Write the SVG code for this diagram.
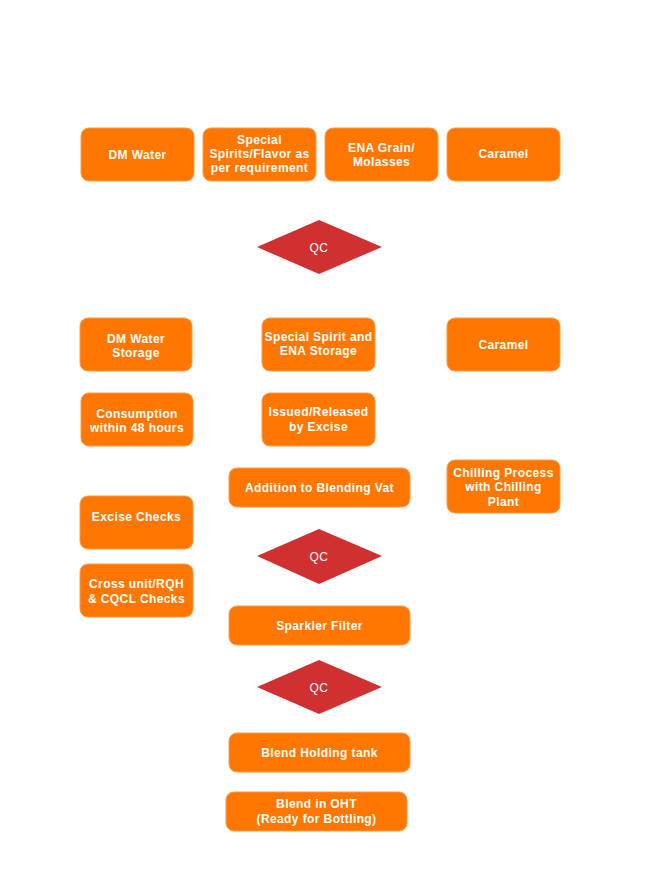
<svg xmlns="http://www.w3.org/2000/svg" width="648" height="884" viewBox="0 0 648 884">
<style>
.b{fill:#FF7700;stroke:#FF9A45;stroke-width:1}
.d{fill:#D03030}
.t{font-family:"Liberation Sans",Arial,sans-serif;font-size:12px;font-weight:700;letter-spacing:0.4px;fill:#FFFFFF;text-anchor:middle}
.q{font-family:"Liberation Sans",Arial,sans-serif;font-size:12px;font-weight:400;letter-spacing:0.5px;fill:#FFFFFF;text-anchor:middle}
</style>
<rect width="648" height="884" fill="#FFFFFF"/>
<g id="connectors"></g>
<g id="dm-water"><rect class="b" x="81" y="128" width="113" height="53" rx="8"/><text class="t" x="137.5" y="159">DM Water</text></g>
<g id="special-spirits"><rect class="b" x="203" y="128" width="113" height="53" rx="8"/><text class="t" x="259.5" y="144">Special</text><text class="t" x="259.5" y="158">Spirits/Flavor as</text><text class="t" x="259.5" y="172">per requirement</text></g>
<g id="ena-grain"><rect class="b" x="325" y="128" width="113" height="53" rx="8"/><text class="t" x="381.5" y="152">ENA Grain/</text><text class="t" x="381.5" y="166">Molasses</text></g>
<g id="caramel-1"><rect class="b" x="447" y="128" width="113" height="53" rx="8"/><text class="t" x="503.5" y="158">Caramel</text></g>
<g id="qc-1"><polygon class="d" points="319,220 382,247 319,274 257,247"/><text class="q" x="319" y="251.5">QC</text></g>
<g id="dm-water-storage"><rect class="b" x="80" y="318" width="112" height="53" rx="8"/><text class="t" x="136" y="343">DM Water</text><text class="t" x="136" y="357">Storage</text></g>
<g id="spirit-ena-storage"><rect class="b" x="262" y="318" width="113" height="53" rx="8"/><text class="t" x="318.5" y="341">Special Spirit and</text><text class="t" x="318.5" y="355">ENA Storage</text></g>
<g id="caramel-2"><rect class="b" x="447" y="318" width="113" height="53" rx="8"/><text class="t" x="503.5" y="349">Caramel</text></g>
<g id="consumption"><rect class="b" x="81" y="393" width="112" height="53" rx="8"/><text class="t" x="137" y="418">Consumption</text><text class="t" x="137" y="432">within 48 hours</text></g>
<g id="issued"><rect class="b" x="262" y="393" width="113" height="53" rx="8"/><text class="t" x="318.5" y="416">Issued/Released</text><text class="t" x="318.5" y="431">by Excise</text></g>
<g id="blending-vat"><rect class="b" x="229" y="468" width="181" height="39" rx="8"/><text class="t" x="319.5" y="492">Addition to Blending Vat</text></g>
<g id="chilling"><rect class="b" x="447" y="460" width="113" height="53" rx="8"/><text class="t" x="503.5" y="477">Chilling Process</text><text class="t" x="503.5" y="491">with Chilling</text><text class="t" x="503.5" y="506">Plant</text></g>
<g id="excise-checks"><rect class="b" x="80" y="496" width="113" height="53" rx="8"/><text class="t" x="136.5" y="521">Excise Checks</text></g>
<g id="cross-unit"><rect class="b" x="80" y="564" width="113" height="53" rx="8"/><text class="t" x="136.5" y="588">Cross unit/RQH</text><text class="t" x="136.5" y="603">&amp; CQCL Checks</text></g>
<g id="qc-2"><polygon class="d" points="319,529 382,556 319,584 257,556"/><text class="q" x="319" y="561">QC</text></g>
<g id="sparkler"><rect class="b" x="229" y="606" width="181" height="39" rx="8"/><text class="t" x="319.5" y="630">Sparkler Filter</text></g>
<g id="qc-3"><polygon class="d" points="319,660 382,687 319,714 257,687"/><text class="q" x="319" y="692">QC</text></g>
<g id="holding-tank"><rect class="b" x="229" y="733" width="181" height="39" rx="8"/><text class="t" x="319.5" y="757">Blend Holding tank</text></g>
<g id="oht"><rect class="b" x="226" y="792" width="181" height="39" rx="8"/><text class="t" x="316.5" y="808">Blend in OHT</text><text class="t" x="316.5" y="823">(Ready for Bottling)</text></g>
</svg>
